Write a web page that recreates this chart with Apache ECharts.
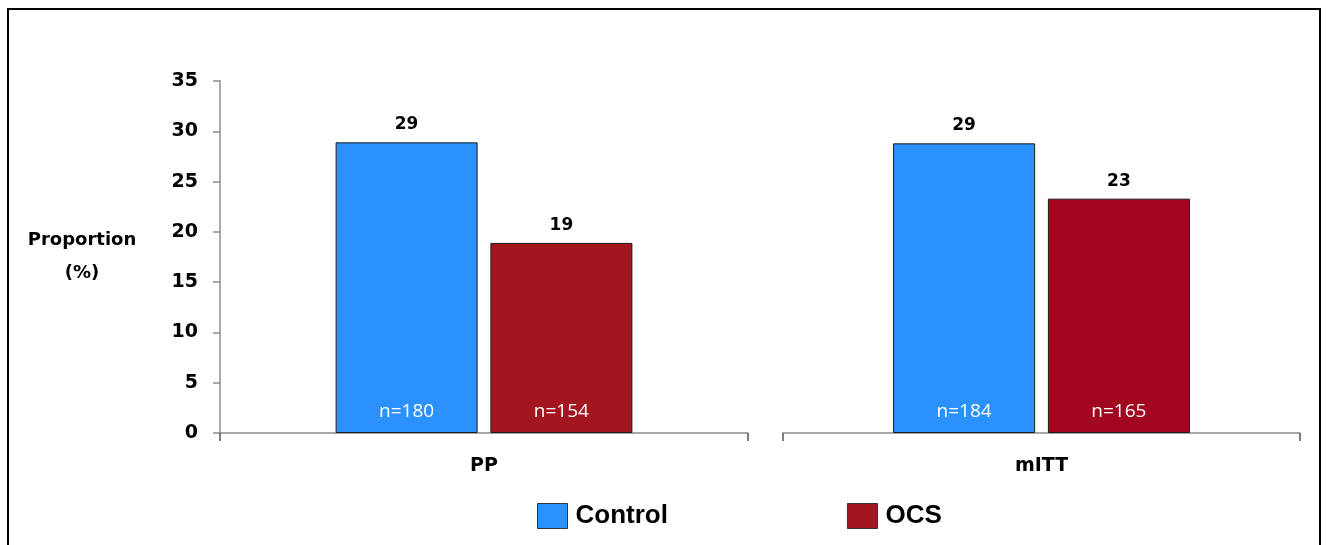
<!DOCTYPE html>
<html>
<head>
<meta charset="utf-8">
<script src="https://cdn.jsdelivr.net/npm/echarts@6/dist/echarts.min.js"></script>
<style>
html,body{margin:0;padding:0;background:#fff;}
#chart{width:1327px;height:545px;position:absolute;left:0;top:0;}
#frame{position:absolute;left:7px;top:8px;width:1310px;height:600px;border:2px solid #000;pointer-events:none;}
</style>
</head>
<body>
<div id="chart"></div>
<div id="frame"></div>
<script>
const categories = ['PP', 'mITT'];
const seriesNames = ['Control', 'OCS'];
const controlValues = [28.9, 28.8];
const ocsValues = [18.9, 23.3];
const controlN = [180, 184];
const ocsN = [154, 165];
const yTicks = { min: 0, max: 35, interval: 5 };

const blue = '#2A91FF';
const reds = ['#A3161F', '#A2061E'];
const FONT_B = 'DejaVu Sans';

const chart = echarts.init(document.getElementById('chart'), null, { renderer: 'canvas' });

const grids = [
  { left: 220, right: 1327 - 748, top: 81, bottom: 545 - 433 },
  { left: 783, right: 1327 - 1300, top: 81, bottom: 545 - 433 }
];

const axisColor = '#8c8c8c';

const xAxes = categories.map((c, i) => ({
  type: 'category',
  gridIndex: i,
  data: [c],
  boundaryGap: true,
  axisLine: { show: true, lineStyle: { color: axisColor, width: 1.5 } },
  axisTick: { show: true, length: 8, lineStyle: { color: '#555', width: 1.5 } },
  axisLabel: { color: '#000', fontFamily: FONT_B, fontWeight: 'bold', fontSize: 19, margin: 24 }
}));

const yAxes = categories.map((c, i) => ({
  type: 'value',
  gridIndex: i,
  min: yTicks.min, max: yTicks.max, interval: yTicks.interval,
  show: i === 0,
  splitLine: { show: false },
  axisLine: { show: true, lineStyle: { color: axisColor, width: 1.5 } },
  axisTick: { show: true, length: 7, lineStyle: { color: axisColor, width: 1.5 } },
  axisLabel: { color: '#000', fontFamily: FONT_B, fontWeight: 'bold', fontSize: 19, margin: 22 },
  name: i === 0 ? 'Proportion\n(%)' : '',
  nameLocation: 'middle',
  nameRotate: 0,
  nameGap: 138,
  nameTextStyle: { color: '#000', fontFamily: FONT_B, fontWeight: 'bold', fontSize: 18, lineHeight: 33, align: 'center' }
}));

const series = [];
categories.forEach((c, i) => {
  const groups = [
    { name: 'Control', val: controlValues[i], n: controlN[i], color: blue, stack: 'c' + i },
    { name: 'OCS', val: ocsValues[i], n: ocsN[i], color: reds[i], stack: 'o' + i }
  ];
  groups.forEach(g => {
    series.push({
      name: g.name,
      type: 'bar',
      xAxisIndex: i, yAxisIndex: i,
      stack: g.stack,
      barWidth: 142,
      barGap: '9%',
      data: [g.val],
      itemStyle: { color: g.color, borderColor: '#1a1a1a', borderWidth: 1 },
      label: {
        show: true, position: 'insideBottom', distance: 12,
        formatter: () => 'n=' + g.n,
        color: '#fff', fontFamily: 'Open Sans', fontSize: 19
      },
      emphasis: { disabled: true }
    });
    series.push({
      name: g.name + ' value',
      type: 'bar',
      xAxisIndex: i, yAxisIndex: i,
      stack: g.stack,
      barWidth: 142,
      barGap: '9%',
      data: [0],
      itemStyle: { color: 'rgba(0,0,0,0)', borderWidth: 0 },
      label: {
        show: true, position: 'top', distance: 9,
        formatter: () => String(Math.round(g.val)),
        color: '#000', fontFamily: FONT_B, fontWeight: 'bold', fontSize: 17
      },
      emphasis: { disabled: true }
    });
  });
});

chart.setOption({
  backgroundColor: 'transparent',
  animation: false,
  grid: grids,
  xAxis: xAxes,
  yAxis: yAxes,
  legend: {
    data: seriesNames.map(n => ({ name: n, itemStyle: { borderColor: '#333', borderWidth: 1 } })),
    left: 537,
    top: 503,
    padding: 0,
    itemWidth: 30,
    itemHeight: 25,
    itemGap: 179,
    icon: 'rect',
    textStyle: { color: '#000', fontFamily: 'Liberation Sans', fontWeight: 'bold', fontSize: 26, padding: [0, 0, 0, 3] },
    selectedMode: false
  },
  series: series
});
</script>
</body>
</html>
